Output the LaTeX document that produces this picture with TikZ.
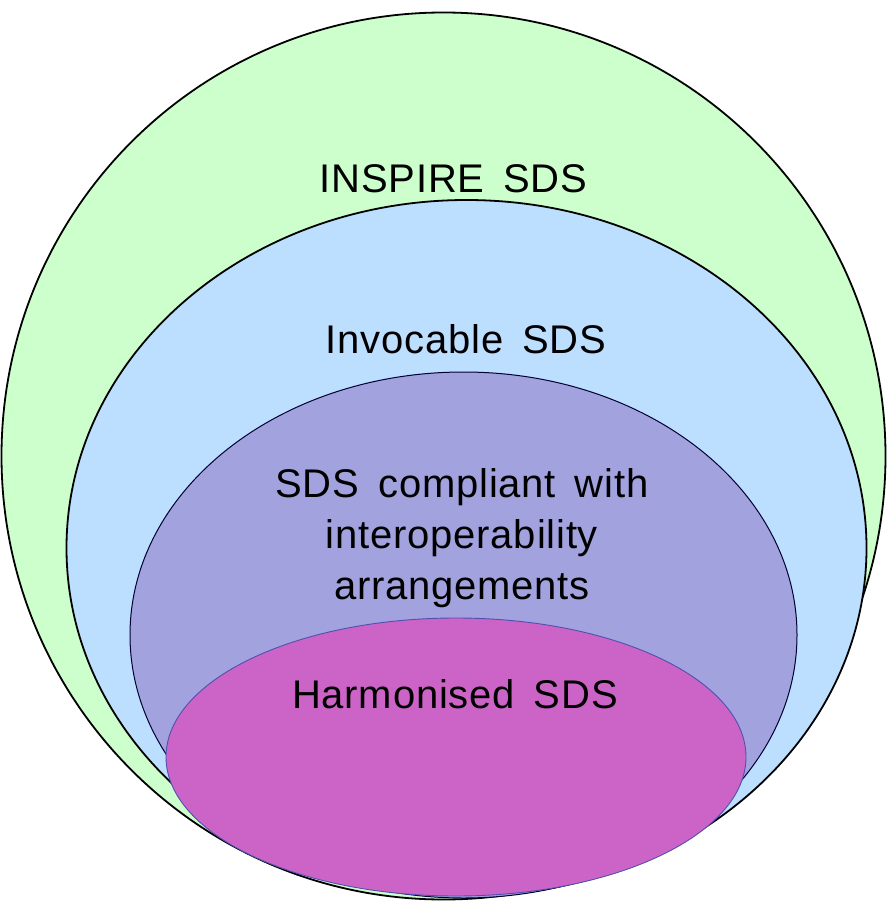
\documentclass[tikz,border=0pt]{standalone}
\usepackage{fontspec}
\setmainfont{Liberation Sans}[LetterSpace=2,WordSpace=1.6]
\definecolor{inspiregreen}{RGB}{204,255,204}
\definecolor{invocableblue}{RGB}{188,222,255}
\definecolor{compliantpurple}{RGB}{162,162,222}
\definecolor{harmonisedpink}{RGB}{204,100,200}
\definecolor{pinkline}{RGB}{80,80,175}
\begin{document}
\begin{tikzpicture}[x=1pt,y=-1pt,
  set/.style={draw=black,line width=1.8pt},
  caption/.style={font=\fontsize{40}{51}\selectfont,align=center,inner sep=0pt}]
  \useasboundingbox (0,0) rectangle (887,902);
  % nested sets, outermost first
  \draw[set,fill=inspiregreen] (443.5,456) ellipse [x radius=442, y radius=443.5];
  \draw[set,fill=invocableblue] (466.5,548) ellipse [x radius=400, y radius=348];
  \draw[set,line width=1pt,draw=black!80!blue,fill=compliantpurple] (463.5,635) ellipse [x radius=333.5, y radius=263];
  \draw[draw=pinkline,line width=0.9pt,fill=harmonisedpink] (456,757) ellipse [x radius=290, y radius=139];
  % labels
  \node[caption,anchor=base] (inspire) at (453.5,192) {INSPIRE SDS};
  \node[caption,anchor=base] (invocable) at (466,353) {Invocable SDS};
  \node[caption] (compliant) at (462,538) {SDS compliant with\\interoperability\\arrangements};
  \node[caption,anchor=base] (harmonised) at (455,708) {Harmonised SDS};
\end{tikzpicture}
\end{document}
